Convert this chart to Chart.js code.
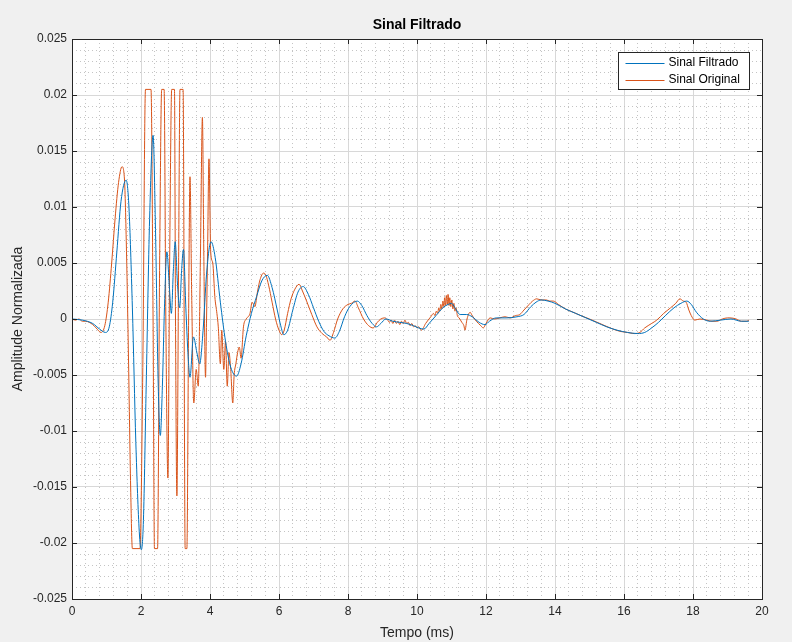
<!DOCTYPE html>
<html>
<head>
<meta charset="utf-8">
<script src="https://cdn.jsdelivr.net/npm/chart.js@4.4.1/dist/chart.umd.min.js"></script>
<style>
  html, body { margin: 0; padding: 0; background: #f0f0f0; }
  #wrap { width: 792px; height: 642px; }
</style>
</head>
<body>
<div id="wrap"><canvas id="c" width="792" height="642"></canvas></div>
<script>
// ---- Data ----
const chartTitle = "Sinal Filtrado";
const xAxisTitle = "Tempo (ms)";
const yAxisTitle = "Amplitude Normalizada";
const seriesNames = ["Sinal Filtrado", "Sinal Original"];

const xTicksMajor = [0, 2, 4, 6, 8, 10, 12, 14, 16, 18, 20];
const yTicksMajor = [-0.025, -0.02, -0.015, -0.01, -0.005, 0, 0.005, 0.01, 0.015, 0.02, 0.025];

// Sinal Filtrado (blue)
const timeFiltrado = [
  0.00, 0.30, 0.60, 0.80, 0.97, 1.08, 1.18, 1.30, 1.42, 1.57, 1.65, 1.75, 1.85, 1.95, 2.01, 2.07, 2.15, 2.25, 2.35, 2.42,
  2.50, 2.56, 2.62, 2.68, 2.75, 2.82, 2.88, 2.94, 2.99, 3.06, 3.12, 3.18, 3.23, 3.30, 3.36, 3.42, 3.52, 3.62, 3.70, 3.80,
  3.90, 4.03, 4.15, 4.30, 4.45, 4.60, 4.77, 4.90, 5.05, 5.20, 5.35, 5.50, 5.66, 5.80, 5.95, 6.05, 6.14, 6.25, 6.40, 6.55,
  6.70, 6.85, 7.00, 7.15, 7.30, 7.45, 7.62, 7.75, 7.90, 8.05, 8.27, 8.40, 8.55, 8.70, 8.83, 8.95, 9.10, 9.30, 9.50, 9.70,
  9.90, 10.05, 10.20, 10.35, 10.55, 10.75, 10.90, 11.00, 11.10, 11.25, 11.44, 11.60, 11.80, 11.97, 12.10, 12.30, 12.60, 12.90, 13.10, 13.30,
  13.45, 13.60, 13.80, 14.00, 14.30, 14.60, 14.90, 15.20, 15.50, 15.80, 16.10, 16.40, 16.60, 16.80, 17.00, 17.20, 17.45, 17.65, 17.82, 17.95,
  18.10, 18.30, 18.50, 18.80, 19.10, 19.40, 19.62
];
const valuesFiltrado = [
  0.0000, -0.0001, -0.0004, -0.0009, -0.0012, -0.0007, 0.0015, 0.0060, 0.0105, 0.0124, 0.0100, 0.0010, -0.0110, -0.0190, -0.0206, -0.0180, -0.0060, 0.0090, 0.0164, 0.0080,
  -0.0060, -0.0104, -0.0060, 0.0010, 0.0060, 0.0030, 0.0005, 0.0045, 0.0069, 0.0030, 0.0010, 0.0045, 0.0062, 0.0010, -0.0030, -0.0052, -0.0016, -0.0030, -0.0040, -0.0010,
  0.0040, 0.0069, 0.0055, 0.0015, -0.0020, -0.0043, -0.0051, -0.0040, -0.0015, 0.0005, 0.0020, 0.0034, 0.0039, 0.0028, 0.0008, -0.0006, -0.0014, -0.0010, 0.0008, 0.0024,
  0.0029, 0.0022, 0.0010, -0.0002, -0.0011, -0.0015, -0.0017, -0.0011, 0.0002, 0.0011, 0.0016, 0.0012, 0.0003, -0.0004, -0.0007, -0.0004, 0.0000, -0.0002, -0.0003, -0.0004,
  -0.0006, -0.0008, -0.0009, -0.0004, 0.0003, 0.0010, 0.0013, 0.0014, 0.0010, 0.0004, 0.0004, 0.0002, -0.0003, -0.0005, -0.0002, 0.0001, 0.0001, 0.0002, 0.0004, 0.0011,
  0.0015, 0.0017, 0.0016, 0.0014, 0.0009, 0.0005, 0.0001, -0.0003, -0.0007, -0.0010, -0.0012, -0.0013, -0.0012, -0.0008, -0.0003, 0.0003, 0.0010, 0.0014, 0.0016, 0.0013,
  0.0006, 0.0000, -0.0002, -0.0001, 0.0000, -0.0002, -0.0002
];

// Sinal Original (orange)
const timeOriginal = [
  0.00, 0.10, 0.20, 0.30, 0.40, 0.50, 0.60, 0.70, 0.84, 0.95,
  1.05, 1.15, 1.25, 1.35, 1.45, 1.52, 1.58, 1.64, 1.70, 1.75,
  1.97, 2.05, 2.13, 2.29, 2.35, 2.39, 2.48, 2.54, 2.60, 2.67,
  2.72, 2.78, 2.83, 2.89, 2.97, 3.00, 3.04, 3.09, 3.13, 3.22,
  3.28, 3.33, 3.38, 3.42, 3.47, 3.53, 3.60, 3.66, 3.72, 3.78,
  3.82, 3.87, 3.90, 3.93, 3.97, 4.02, 4.08, 4.14, 4.20, 4.24,
  4.30, 4.34, 4.40, 4.45, 4.50, 4.55, 4.60, 4.66, 4.70, 4.75,
  4.80, 4.85, 4.90, 4.97, 5.05, 5.16, 5.22, 5.30, 5.38, 5.45,
  5.55, 5.62, 5.70, 5.80, 5.90, 6.00, 6.08, 6.15, 6.25, 6.35,
  6.45, 6.58, 6.68, 6.80, 6.95, 7.10, 7.25, 7.38, 7.48, 7.58,
  7.70, 7.85, 8.00, 8.10, 8.20, 8.30, 8.45, 8.60, 8.73, 8.85,
  8.95, 9.07, 9.15, 9.20, 9.25, 9.30, 9.35, 9.40, 9.45, 9.50,
  9.55, 9.60, 9.65, 9.70, 9.75, 9.80, 9.85, 9.90, 9.95, 10.00,
  10.05, 10.13, 10.25, 10.40, 10.48, 10.52, 10.56, 10.60, 10.63, 10.66,
  10.69, 10.72, 10.75, 10.78, 10.80, 10.83, 10.85, 10.88, 10.90, 10.93,
  10.95, 10.98, 11.01, 11.04, 11.07, 11.10, 11.13, 11.17, 11.22, 11.30,
  11.36, 11.39, 11.45, 11.54, 11.60, 11.72, 11.85, 11.92, 12.00, 12.12,
  12.25, 12.40, 12.55, 12.70, 12.85, 12.98, 13.10, 13.25, 13.35, 13.47,
  13.60, 13.75, 13.85, 13.95, 14.10, 14.30, 14.53, 14.75, 15.00, 15.30,
  15.60, 15.88, 16.10, 16.30, 16.46, 16.60, 16.80, 16.95, 17.15, 17.35,
  17.50, 17.62, 17.72, 17.80, 17.88, 17.95, 18.05, 18.20, 18.40, 18.55,
  18.69, 18.85, 19.00, 19.07, 19.25, 19.40, 19.56, 19.62
];
const valuesOriginal = [
  0.0000, -0.0001, 0.0000, -0.0002, -0.0002, -0.0003, -0.0005, -0.0008, -0.0012, -0.0006,
  0.0015, 0.0050, 0.0090, 0.0122, 0.0136, 0.0125, 0.0060, -0.0040, -0.0150, -0.0205,
  -0.0205, -0.0050, 0.0205, 0.0205, 0.0000, -0.0205, -0.0205, 0.0050, 0.0205, 0.0205,
  0.0000, -0.0142, 0.0050, 0.0205, 0.0205, 0.0000, -0.0158, 0.0050, 0.0205, 0.0205,
  -0.0205, -0.0205, 0.0000, 0.0127, 0.0020, -0.0075, -0.0045, -0.0060, 0.0050, 0.0180,
  0.0060, -0.0052, 0.0000, 0.0060, 0.0143, 0.0060, 0.0050, 0.0020, 0.0005, -0.0007,
  -0.0040, -0.0010, -0.0045, -0.0020, -0.0060, -0.0030, -0.0045, -0.0075, -0.0050, -0.0040,
  -0.0030, -0.0025, -0.0035, -0.0007, 0.0000, 0.0005, 0.0015, 0.0011, 0.0025, 0.0035,
  0.0041, 0.0039, 0.0030, 0.0015, 0.0000, -0.0010, -0.0014, -0.0010, 0.0005, 0.0018,
  0.0026, 0.0031, 0.0025, 0.0016, 0.0004, -0.0007, -0.0013, -0.0016, -0.0019, -0.0012,
  0.0000, 0.0009, 0.0013, 0.0014, 0.0016, 0.0010, 0.0000, -0.0006, -0.0008, -0.0003,
  0.0000, 0.0001, -0.0001, -0.0003, -0.0001, -0.0004, -0.0001, -0.0004, -0.0002, -0.0005,
  -0.0002, -0.0004, -0.0001, -0.0004, -0.0003, -0.0006, -0.0004, -0.0007, -0.0006, -0.0008,
  -0.0007, -0.0010, -0.0004, 0.0002, 0.0005, 0.0003, 0.0007, 0.0005, 0.0010, 0.0007,
  0.0013, 0.0009, 0.0016, 0.0011, 0.0019, 0.0012, 0.0021, 0.0013, 0.0022, 0.0012,
  0.0019, 0.0011, 0.0017, 0.0009, 0.0014, 0.0007, 0.0010, 0.0003, 0.0001, -0.0003,
  -0.0006, -0.0010, 0.0000, 0.0006, 0.0003, -0.0002, -0.0006, -0.0008, -0.0004, 0.0001,
  0.0000, 0.0001, 0.0002, 0.0001, 0.0003, 0.0004, 0.0008, 0.0013, 0.0016, 0.0018,
  0.0017, 0.0017, 0.0016, 0.0016, 0.0013, 0.0009, 0.0006, 0.0003, 0.0000, -0.0004,
  -0.0008, -0.0011, -0.0012, -0.0013, -0.0012, -0.0008, -0.0004, -0.0001, 0.0005, 0.0010,
  0.0014, 0.0018, 0.0016, 0.0015, 0.0008, 0.0003, -0.0001, 0.0000, -0.0001, -0.0002,
  -0.0002, 0.0000, 0.0001, 0.0001, 0.0000, -0.0002, -0.0002, -0.0001
];

// ---- Style ----
const BLUE = '#0072BD';
const ORANGE = '#D95319';
const AXIS = '#262626';
const FONT = "'Liberation Sans', Arial, sans-serif";

const toXY = (xs, ys) => xs.map((x, i) => ({ x: x, y: ys[i] }));
const isMajor = (v, list) => list.some(m => Math.abs(m - v) < 1e-9);

const bgPlugin = {
  id: 'bg',
  beforeDraw(chart) {
    const { ctx, chartArea: a } = chart;
    ctx.save();
    ctx.fillStyle = '#f0f0f0';
    ctx.fillRect(0, 0, chart.width, chart.height);
    ctx.fillStyle = '#ffffff';
    ctx.fillRect(a.left, a.top, a.right - a.left, a.bottom - a.top);
    ctx.restore();
  }
};

const framePlugin = {
  id: 'frame',
  afterDraw(chart) {
    const { ctx, chartArea: a, scales } = chart;
    ctx.save();
    ctx.strokeStyle = AXIS;
    ctx.lineWidth = 1;
    // ticks inward on all four sides
    const L = 5;
    ctx.beginPath();
    xTicksMajor.forEach(v => {
      const px = Math.round(scales.x.getPixelForValue(v)) + 0.5;
      ctx.moveTo(px, a.bottom); ctx.lineTo(px, a.bottom - L);
      ctx.moveTo(px, a.top); ctx.lineTo(px, a.top + L);
    });
    yTicksMajor.forEach(v => {
      const py = Math.round(scales.y.getPixelForValue(v)) + 0.5;
      ctx.moveTo(a.left, py); ctx.lineTo(a.left + L, py);
      ctx.moveTo(a.right, py); ctx.lineTo(a.right - L, py);
    });
    ctx.stroke();
    // box
    ctx.strokeRect(Math.round(a.left) + 0.5, Math.round(a.top) + 0.5,
                   Math.round(a.right - a.left), Math.round(a.bottom - a.top));

    // title, centred over the plot area
    ctx.fillStyle = '#000000';
    ctx.font = "bold 14px " + FONT;
    ctx.textAlign = 'center';
    ctx.textBaseline = 'middle';
    ctx.fillText(chartTitle, (a.left + a.right) / 2, 25);

    // legend
    const bx = 618.5, by = 52.5, bw = 131, bh = 37;
    ctx.fillStyle = '#ffffff';
    ctx.fillRect(bx, by, bw, bh);
    ctx.strokeStyle = AXIS;
    ctx.strokeRect(bx, by, bw, bh);
    ctx.font = "12px " + FONT;
    ctx.textBaseline = 'middle';
    ctx.textAlign = 'left';
    chart.data.datasets.forEach((ds, i) => {
      const yy = by + 10 + i * 17;
      ctx.strokeStyle = ds.borderColor;
      ctx.beginPath();
      ctx.moveTo(bx + 7, Math.round(yy) + 0.5);
      ctx.lineTo(bx + 46, Math.round(yy) + 0.5);
      ctx.stroke();
      ctx.fillStyle = '#000000';
      ctx.fillText(ds.label, bx + 50, yy);
    });
    ctx.restore();
  }
};

new Chart(document.getElementById('c'), {
  type: 'line',
  data: {
    datasets: [
      {
        label: seriesNames[0],
        data: toXY(timeFiltrado, valuesFiltrado),
        borderColor: BLUE,
        borderWidth: 1,
        pointRadius: 0,
        cubicInterpolationMode: 'monotone',
        fill: false
      },
      {
        label: seriesNames[1],
        data: toXY(timeOriginal, valuesOriginal),
        borderColor: ORANGE,
        borderWidth: 1,
        pointRadius: 0,
        cubicInterpolationMode: 'monotone',
        fill: false
      }
    ]
  },
  options: {
    responsive: false,
    animation: false,
    devicePixelRatio: 1,
    layout: { padding: { left: 0, right: 30, top: 39, bottom: 0 } },
    plugins: {
      legend: { display: false },
      tooltip: { enabled: false },
      title: { display: false }
    },
    scales: {
      x: {
        type: 'linear',
        min: 0, max: 20,
        afterFit(scale) { scale.height = 43; },
        ticks: {
          stepSize: 0.4,
          autoSkip: false,
          maxRotation: 0,
          padding: 5,
          color: AXIS,
          font: { family: FONT, size: 12 },
          callback: (v) => isMajor(v, xTicksMajor) ? String(Math.round(v)) : ''
        },
        grid: {
          drawTicks: false,
          color: (c) => (c.tick && isMajor(c.tick.value, xTicksMajor)) ? '#d8d8d8' : '#c4c4c4',
          lineWidth: 1
        },
        border: {
          display: false,
          dash: (c) => (c.tick && !isMajor(c.tick.value, xTicksMajor)) ? [1, 3] : []
        },
        title: {
          display: true,
          text: xAxisTitle,
          color: AXIS,
          font: { family: FONT, size: 14 },
          padding: { top: 0, bottom: 0 }
        }
      },
      y: {
        type: 'linear',
        min: -0.025, max: 0.025,
        afterFit(scale) { scale.width = 72; },
        ticks: {
          stepSize: 0.001,
          autoSkip: false,
          padding: 5,
          color: AXIS,
          font: { family: FONT, size: 12 },
          callback: (v) => isMajor(v, yTicksMajor) ? String(parseFloat(v.toFixed(3))) : ''
        },
        grid: {
          drawTicks: false,
          color: (c) => (c.tick && isMajor(c.tick.value, yTicksMajor)) ? '#d8d8d8' : '#c4c4c4',
          lineWidth: 1
        },
        border: {
          display: false,
          dash: (c) => (c.tick && !isMajor(c.tick.value, yTicksMajor)) ? [1, 3] : []
        },
        title: {
          display: true,
          text: yAxisTitle,
          color: AXIS,
          font: { family: FONT, size: 14 },
          padding: { top: 10, bottom: 0 }
        }
      }
    }
  },
  plugins: [bgPlugin, framePlugin]
});
</script>
</body>
</html>
